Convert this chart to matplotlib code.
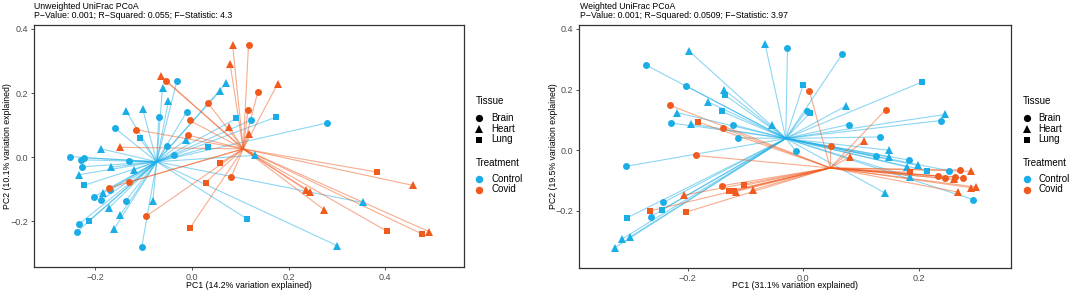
import matplotlib
matplotlib.use('Agg')
import matplotlib.pyplot as plt
from matplotlib.lines import Line2D

plt.rcParams['font.family'] = ['Liberation Sans', 'DejaVu Sans']
plt.rcParams['axes.unicode_minus'] = True

CONTROL = '#1BAEE6'
COVID = '#F05A1E'
W, H = 1072, 293

# ---------------- Unweighted UniFrac PCoA (left) ----------------
uw_title = "Unweighted UniFrac PCoA"
uw_stats = "P\u2212Value: 0.001; R\u2212Squared: 0.055; F\u2212Statistic: 4.3"
uw_xlabel = "PC1 (14.2% variation explained)"
uw_ylabel = "PC2 (10.1% variation explained)"

uw_ctrl_brain_x = [-0.031, -0.011, -0.069, 0.123, 0.280, -0.159, -0.052, -0.253, -0.229, -0.223,
                   -0.228, -0.130, -0.037, -0.169, -0.203, -0.188, -0.137, -0.233, -0.238, -0.104]
uw_ctrl_brain_y = [0.239, 0.141, 0.126, 0.116, 0.107, 0.090, 0.035, 0.002, -0.008, -0.002,
                   -0.030, -0.013, 0.007, -0.103, -0.123, -0.134, -0.135, -0.207, -0.232, -0.280]
uw_ctrl_heart_x = [-0.061, 0.071, 0.057, -0.049, -0.136, -0.102, -0.013, -0.188, -0.168, -0.119,
                   -0.233, 0.131, -0.185, -0.172, -0.081, -0.149, -0.161, 0.353, 0.301]
uw_ctrl_heart_y = [0.217, 0.232, 0.205, 0.174, 0.143, 0.150, 0.054, 0.026, -0.031, -0.039,
                   -0.054, 0.006, -0.112, -0.158, -0.135, -0.181, -0.223, -0.141, -0.276]
uw_ctrl_lung_x = [0.092, 0.174, -0.108, 0.034, -0.224, 0.114, -0.214]
uw_ctrl_lung_y = [0.121, 0.125, 0.059, 0.031, -0.088, -0.192, -0.199]
uw_covid_brain_x = [0.117, -0.054, 0.136, 0.033, 0.116, -0.005, -0.116, -0.008, -0.171, -0.131, 0.081, -0.095]
uw_covid_brain_y = [0.350, 0.237, 0.202, 0.169, 0.148, 0.115, 0.086, 0.069, -0.095, -0.078, -0.063, -0.184]
uw_covid_heart_x = [0.084, 0.079, -0.064, 0.177, 0.077, 0.118, -0.149, 0.458, 0.236, 0.245, 0.273, 0.491]
uw_covid_heart_y = [0.350, 0.290, 0.253, 0.228, 0.094, 0.072, 0.031, -0.088, -0.102, -0.108, -0.163, -0.232]
uw_covid_lung_x = [0.058, 0.028, -0.004, 0.382, 0.404, 0.476]
uw_covid_lung_y = [-0.018, -0.079, -0.220, -0.046, -0.231, -0.239]
uw_centroid_ctrl = (-0.073, -0.014)
uw_centroid_covid = (0.106, 0.026)

# ---------------- Weighted UniFrac PCoA (right) ----------------
w_title = "Weighted UniFrac PCoA"
w_stats = "P\u2212Value: 0.001; R\u2212Squared: 0.0509; F\u2212Statistic: 3.97"
w_xlabel = "PC1 (31.1% variation explained)"
w_ylabel = "PC2 (19.5% variation explained)"

w_ctrl_brain_x = [-0.272, -0.027, 0.068, -0.202, -0.229, -0.122, -0.113, 0.006, 0.079, 0.133,
                  0.238, -0.012, -0.307, 0.126, 0.183, 0.252, 0.295, -0.242, -0.264]
w_ctrl_brain_y = [0.281, 0.337, 0.318, 0.212, 0.090, 0.085, 0.041, 0.130, 0.085, 0.044,
                  0.098, -0.003, -0.053, -0.019, -0.032, -0.067, -0.163, -0.172, -0.219]
w_ctrl_heart_x = [-0.198, -0.066, -0.137, -0.164, -0.218, -0.194, -0.054, 0.074, 0.245, 0.149,
                  0.148, 0.180, 0.199, 0.185, 0.142, -0.314, -0.299, -0.326]
w_ctrl_heart_y = [0.328, 0.352, 0.200, 0.159, 0.124, 0.086, 0.084, 0.146, 0.118, 0.000,
                  -0.022, -0.055, -0.050, -0.087, -0.141, -0.293, -0.285, -0.321]
w_ctrl_lung_x = [-0.136, -0.141, 0.000, 0.206, 0.012, 0.215, -0.245, -0.305]
w_ctrl_lung_y = [0.183, 0.128, 0.215, 0.225, 0.123, -0.068, -0.196, -0.223]
w_covid_brain_x = [-0.230, -0.139, 0.011, 0.143, 0.048, -0.186, -0.141, 0.272, 0.234, 0.246, 0.263, 0.277]
w_covid_brain_y = [0.148, 0.073, 0.195, 0.134, 0.013, -0.017, -0.117, -0.065, -0.085, -0.092, -0.088, -0.091]
w_covid_heart_x = [0.105, 0.082, 0.291, 0.261, 0.290, 0.299, 0.269, -0.116, -0.087, -0.207]
w_covid_heart_y = [0.031, -0.021, -0.069, -0.096, -0.123, -0.121, -0.138, -0.136, -0.130, -0.148]
w_covid_lung_x = [-0.182, 0.185, -0.103, -0.128, -0.120, -0.265, -0.203]
w_covid_lung_y = [0.093, -0.073, -0.116, -0.134, -0.134, -0.200, -0.204]
w_centroid_ctrl = (-0.030, 0.039)
w_centroid_covid = (0.047, -0.058)

ticks = [-0.2, 0.0, 0.2, 0.4]
tissue_labels = ["Brain", "Heart", "Lung"]
treatment_labels = ["Control", "Covid"]
MARKERS = {"Brain": "o", "Heart": "^", "Lung": "s"}
MSIZE = {"Brain": 5.0, "Heart": 5.4, "Lung": 4.6}
COLORS = {"Control": CONTROL, "Covid": COVID}

fig = plt.figure(figsize=(W / 100, H / 100), dpi=100)


def px_axes(x0, y0, x1, y1):
    return fig.add_axes([x0 / W, 1 - y1 / H, (x1 - x0) / W, (y1 - y0) / H])


def draw_panel(ax, groups, centroids, xlim, ylim):
    # spider segments
    for (treat, tissue), (xs, ys) in groups.items():
        cx, cy = centroids[treat]
        for x, y in zip(xs, ys):
            ax.plot([x, cx], [y, cy], color=COLORS[treat], alpha=0.5, lw=0.8,
                    solid_capstyle='butt', zorder=1)
    for (treat, tissue), (xs, ys) in groups.items():
        ax.plot(xs, ys, linestyle='none', marker=MARKERS[tissue], ms=MSIZE[tissue],
                color=COLORS[treat], markeredgewidth=0, zorder=3)
    ax.set_xticks(ticks)
    ax.set_yticks(ticks)
    ax.set_xticklabels([f"{t:.1f}".replace('-', '\u2212') for t in ticks])
    ax.set_yticklabels([f"{t:.1f}".replace('-', '\u2212') for t in ticks])
    ax.set_xlim(*xlim)
    ax.set_ylim(*ylim)
    ax.tick_params(labelsize=6.5, labelcolor='#4D4D4D', color='#333333', length=2.5,
                   width=0.6, pad=1.5)
    for s in ax.spines.values():
        s.set_color('#333333')
        s.set_linewidth(0.9)


def draw_legend(x_title, x_marker, x_text):
    fig.text(x_title / W, 1 - 101 / H, "Tissue", fontsize=7, va='center', ha='left')
    for lab, y in zip(tissue_labels, [117.5, 128.5, 139.5]):
        fig.add_artist(Line2D([x_marker / W], [1 - y / H], marker=MARKERS[lab], color='black',
                              ms=MSIZE[lab] + 0.2, linestyle='none', markeredgewidth=0,
                              transform=fig.transFigure))
        fig.text(x_text / W, 1 - y / H, lab, fontsize=7, va='center', ha='left')
    fig.text(x_title / W, 1 - 163.5 / H, "Treatment", fontsize=7, va='center', ha='left')
    for lab, y in zip(treatment_labels, [178.5, 189.5]):
        fig.add_artist(Line2D([x_marker / W], [1 - y / H], marker='o', color=COLORS[lab],
                              ms=5.4, linestyle='none', markeredgewidth=0,
                              transform=fig.transFigure))
        fig.text(x_text / W, 1 - y / H, lab, fontsize=7, va='center', ha='left')


# Left panel
ax1 = px_axes(34, 25, 464, 267)
uw_groups = {
    ("Control", "Brain"): (uw_ctrl_brain_x, uw_ctrl_brain_y),
    ("Control", "Heart"): (uw_ctrl_heart_x, uw_ctrl_heart_y),
    ("Control", "Lung"): (uw_ctrl_lung_x, uw_ctrl_lung_y),
    ("Covid", "Brain"): (uw_covid_brain_x, uw_covid_brain_y),
    ("Covid", "Heart"): (uw_covid_heart_x, uw_covid_heart_y),
    ("Covid", "Lung"): (uw_covid_lung_x, uw_covid_lung_y),
}
draw_panel(ax1, uw_groups, {"Control": uw_centroid_ctrl, "Covid": uw_centroid_covid},
           (-0.327, 0.563), (-0.342, 0.412))
fig.text(34.5 / W, 1 - 6.5 / H, uw_title, fontsize=6.3, va='center', ha='left')
fig.text(34.5 / W, 1 - 16 / H, uw_stats, fontsize=6.3, va='center', ha='left')
fig.text(249 / W, 1 - 286 / H, uw_xlabel, fontsize=6.3, va='center', ha='center')
fig.text(8 / W, 1 - 146 / H, uw_ylabel, fontsize=6.3, va='center', ha='center', rotation=90)
draw_legend(476, 479.3, 491)

# Right panel
ax2 = px_axes(579, 25, 1011, 268)
w_groups = {
    ("Control", "Brain"): (w_ctrl_brain_x, w_ctrl_brain_y),
    ("Control", "Heart"): (w_ctrl_heart_x, w_ctrl_heart_y),
    ("Control", "Lung"): (w_ctrl_lung_x, w_ctrl_lung_y),
    ("Covid", "Brain"): (w_covid_brain_x, w_covid_brain_y),
    ("Covid", "Heart"): (w_covid_heart_x, w_covid_heart_y),
    ("Covid", "Lung"): (w_covid_lung_x, w_covid_lung_y),
}
draw_panel(ax2, w_groups, {"Control": w_centroid_ctrl, "Covid": w_centroid_covid},
           (-0.388, 0.360), (-0.388, 0.413))
fig.text(579.5 / W, 1 - 6.5 / H, w_title, fontsize=6.3, va='center', ha='left')
fig.text(579.5 / W, 1 - 16 / H, w_stats, fontsize=6.3, va='center', ha='left')
fig.text(795 / W, 1 - 286 / H, w_xlabel, fontsize=6.3, va='center', ha='center')
fig.text(553 / W, 1 - 146 / H, w_ylabel, fontsize=6.3, va='center', ha='center', rotation=90)
draw_legend(1022.3, 1027.3, 1038.3)

fig.savefig('out.png', dpi=100)
